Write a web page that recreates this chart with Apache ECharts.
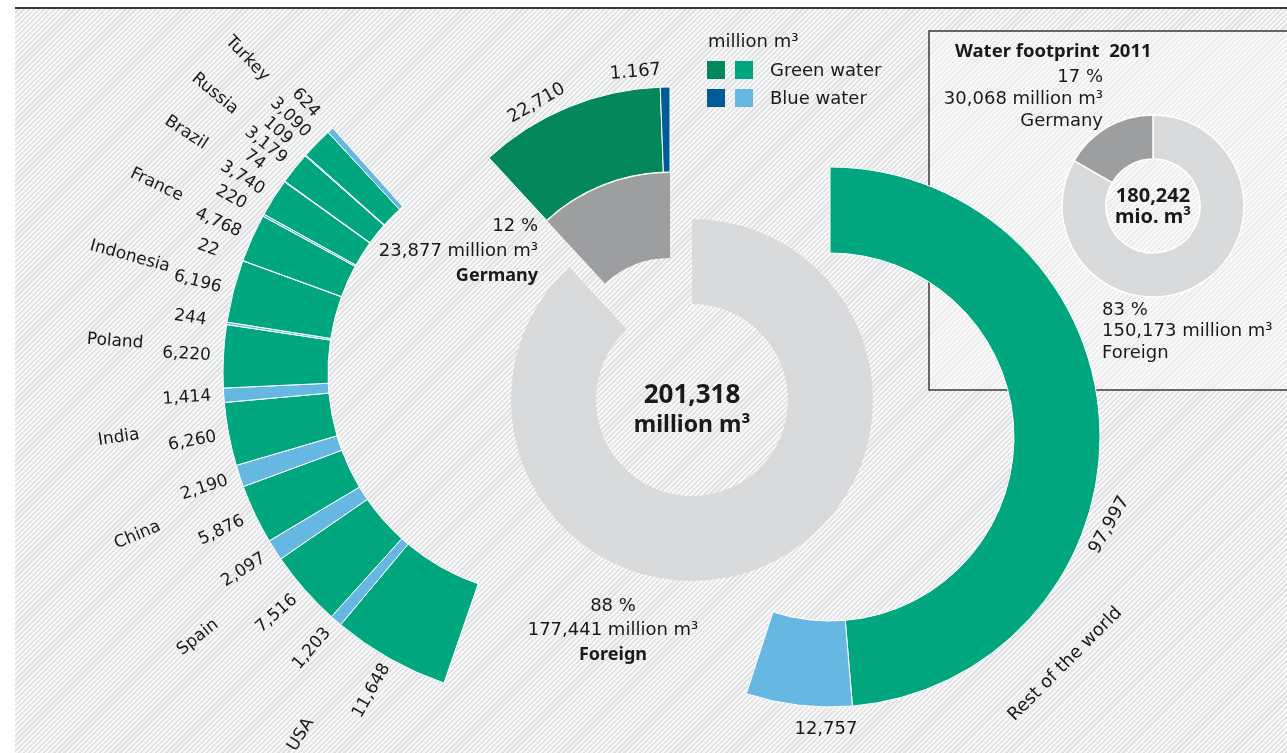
<!DOCTYPE html>
<html><head><meta charset="utf-8">
<script src="https://cdn.jsdelivr.net/npm/echarts/dist/echarts.min.js"></script>
<style>
html,body{margin:0;padding:0;background:#fff;overflow:hidden;}
#hatch{position:absolute;left:15px;top:9px;width:1272px;height:744px;
 background:repeating-linear-gradient(135deg,#f8f8f8 0px,#f8f8f8 2px,#e0e1e2 2px,#e0e1e2 3.6px);}
#topline{position:absolute;left:15px;top:7px;width:1272px;height:2px;background:#3a3a3a;}
#chart{position:absolute;left:0;top:0;width:1287px;height:753px;}
</style></head>
<body>
<div id="hatch"></div><div id="topline"></div>
<div id="chart"></div>
<script>
// ---------------- data (million m³) ----------------
const countries  = ['USA','Spain','China','India','Poland','Indonesia','France','Brazil','Russia','Turkey'];
const greenWater = [11648, 7516, 5876, 6260, 6220, 6196, 4768, 3740, 3179, 3090];
const blueWater  = [ 1203, 2097, 2190, 1414,  244,   22,  220,   74,  109,  624];
const restGreen = 97997, restBlue = 12757;
const germanyGreen = 22710, germanyBlue = 1167;
const foreignTotal = 177441, germanyTotal = 23877, grandTotal = 201318;
const foreignPct = 88, germanyPct = 12;
const inset2011Germany = 30068, inset2011Foreign = 150173, inset2011Total = 180242;
const inset2011GermanyPct = 17, inset2011ForeignPct = 83;

// ---------------- styles ----------------
const FONT = '"DejaVu Sans", "Noto Sans", sans-serif';
const FONTB = '"Noto Sans", "DejaVu Sans", sans-serif';
const C = {
  green: '#00a67e', blue: '#66b8e2',
  deGreen: '#03875b', deBlue: '#005b97',
  lightGray: '#d9dadb', darkGray: '#9d9ea0', text: '#1a1a1a'
};
const fmt = v => v.toLocaleString('en-US');
const NONE = 'rgba(0,0,0,0)';

// segments clockwise from 12 o'clock
const segs = [];
segs.push({name:'Rest of the world', group:'row', kind:'green', value:restGreen});
segs.push({name:'Rest of the world', group:'row', kind:'blue', value:restBlue});
countries.forEach((c,i)=>{
  segs.push({name:c, group:'cty', kind:'green', value:greenWater[i]});
  segs.push({name:c, group:'cty', kind:'blue', value:blueWater[i]});
});
segs.push({name:'Germany', group:'de', kind:'green', value:germanyGreen});
segs.push({name:'Germany', group:'de', kind:'blue', value:germanyBlue});

function segColor(s){
  if (s.group==='de') return s.kind==='green'?C.deGreen:C.deBlue;
  return s.kind==='green'?C.green:C.blue;
}
// layout of the pieces
const L = {
  main:  {c:[692,400], r:[96,181]},
  deIn:  {c:[670,354], r:[96,181]},
  deOut: {c:[670,354], r:[182,267]},
  row:   {c:[830,437], r:[184,270]},
  cty:   {c:[551,373], r:[223,328], start:89},
};
const base = {type:'pie', silent:true, animation:false, avoidLabelOverlap:false,
  label:{show:false}, labelLine:{show:false}, emphasis:{disabled:true}};

function ring(group, lay){
  return Object.assign({}, base, {
    center: lay.c, radius: lay.r, startAngle: lay.start || 90,
    data: segs.map(s=>({name:s.name, value:s.value,
      itemStyle: s.group===group ? {color:segColor(s), borderColor:'#fff', borderWidth:1}
                                 : {color:NONE, borderWidth:0}}))
  });
}
const series = [];
// central donut: foreign (light) + germany (exploded, dark)
series.push(Object.assign({}, base, {center:L.main.c, radius:L.main.r, z:2,
  data:[{name:'Foreign', value:foreignTotal, itemStyle:{color:C.lightGray}},
        {name:'Germany', value:germanyTotal, itemStyle:{color:NONE}}]}));
series.push(Object.assign({}, base, {center:L.deIn.c, radius:L.deIn.r, z:2,
  data:[{name:'Foreign', value:foreignTotal, itemStyle:{color:NONE}},
        {name:'Germany', value:germanyTotal, itemStyle:{color:C.darkGray}}]}));
series.push(ring('de', L.deOut));
series.push(ring('row', L.row));
series.push(ring('cty', L.cty));
// country value labels
series.push(Object.assign({}, base, {center:L.cty.c, radius:[352,372], startAngle:L.cty.start,
  label:{show:true, position:'inside', rotate:'radial', fontSize:17, fontFamily:FONT, color:C.text,
         formatter:p=>fmt(p.value)},
  data: segs.map(s=>({name:s.name, value:s.value, itemStyle:{color:NONE},
         label:{show:s.group==='cty'}}))}));
// country name labels
const nameData = [{name:'', value:restGreen+restBlue, label:{show:false}}];
countries.forEach((c,i)=>nameData.push({name:c, value:greenWater[i]+blueWater[i]}));
nameData.push({name:'', value:germanyGreen+germanyBlue, label:{show:false}});
const nameNudge = {USA:[-2,-24], Spain:[-4,-12], China:[-7,-9]};
series.push(Object.assign({}, base, {center:L.cty.c, radius:[422,446], startAngle:88,
  label:{show:true, position:'inside', rotate:'radial', fontSize:17, fontFamily:FONT, color:C.text,
         formatter:'{b}'},
  labelLayout: function(params){
    const n = nameNudge[nameData[params.dataIndex].name];
    return n ? {dx:n[0], dy:n[1]} : {};
  },
  data: nameData.map(d=>Object.assign({itemStyle:{color:NONE}}, d))}));
// inset donut (2011)
series.push(Object.assign({}, base, {center:[1153,206], radius:[47,91], z:3,
  data:[{name:'Foreign', value:inset2011Foreign, itemStyle:{color:C.lightGray, borderColor:'#fff', borderWidth:1.5}},
        {name:'Germany', value:inset2011Germany, itemStyle:{color:C.darkGray, borderColor:'#fff', borderWidth:1.5}}]}));

// -------- text annotations --------
function polar(c, r, deg){ const a=deg*Math.PI/180; return [c[0]+r*Math.sin(a), c[1]-r*Math.cos(a)]; }
const G = [];
function txt(t, x, y, o){
  o = o || {};
  G.push({type:'text', x:x, y:y, rotation:(o.rot||0)*Math.PI/180, z:100,
    style:{text:t, fill:o.fill||C.text, fontSize:o.size||18, fontWeight:o.bold?'bold':'normal',
      fontFamily:o.bold?FONTB:FONT, align:o.align||'center', verticalAlign:'middle'}});
}
// inset frame (beneath series)
G.push({type:'rect', z:-10, shape:{x:929, y:31, width:380, height:359},
  style:{fill:'rgba(255,255,255,0.35)', stroke:'#3a3a3a', lineWidth:1.5}});

// ring value labels (angles in degrees clockwise from 12 o'clock)
let p;
p = polar(L.deOut.c, 284, 332); txt(fmt(germanyGreen), p[0], p[1], {rot:30});
p = polar(L.deOut.c, 284, 353); txt('1.167', p[0], p[1], {rot:5});
p = polar(L.row.c, 293, 107.5); txt(fmt(restGreen), p[0], p[1], {rot:60});
p = polar(L.row.c, 327, 134); txt('Rest of the world', p[0], p[1], {rot:45});
p = polar(L.row.c, 292, 180.8); txt(fmt(restBlue), p[0], p[1], {});

// centre
txt(fmt(grandTotal), 692, 396, {bold:true, size:26});
txt('million m³', 692, 425, {bold:true, size:23});
// germany / foreign annotations
txt(germanyPct+' %', 538, 226, {align:'right'});
txt(fmt(germanyTotal)+' million m³', 538, 251, {align:'right'});
txt('Germany', 538, 276, {align:'right', bold:true});
txt(foreignPct+' %', 613, 606);
txt(fmt(foreignTotal)+' million m³', 613, 630);
txt('Foreign', 613, 655, {bold:true});
// legend
txt('million m³', 708, 42, {align:'left'});
[[707,61,C.deGreen],[735,61,C.green],[707,89,C.deBlue],[735,89,C.blue]].forEach(q=>{
  G.push({type:'rect', z:100, shape:{x:q[0], y:q[1], width:18, height:18}, style:{fill:q[2]}});
});
txt('Green water', 770, 71, {align:'left'});
txt('Blue water', 770, 99, {align:'left'});
// inset texts
txt('Water footprint  2011', 955, 52, {align:'left', bold:true, size:18.5});
txt(inset2011GermanyPct+' %', 1103, 77, {align:'right'});
txt(fmt(inset2011Germany)+' million m³', 1103, 99, {align:'right'});
txt('Germany', 1103, 121, {align:'right'});
txt(inset2011ForeignPct+' %', 1102, 310, {align:'left'});
txt(fmt(inset2011Foreign)+' million m³', 1102, 331, {align:'left'});
txt('Foreign', 1102, 353, {align:'left'});
txt(fmt(inset2011Total), 1153, 196, {bold:true, size:20});
txt('mio. m³', 1153, 217, {bold:true, size:20});

const chart = echarts.init(document.getElementById('chart'), null, {renderer:'canvas'});
chart.setOption({backgroundColor:'transparent', animation:false, series:series, graphic:{elements:G}});
</script>
</body></html>
